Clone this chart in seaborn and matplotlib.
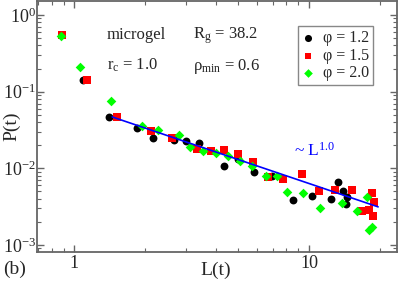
import matplotlib
matplotlib.use("Agg")
import matplotlib.pyplot as plt
import seaborn as sns
import pandas as pd
import numpy as np

# ---- data ----
L_12 = [1.092, 1.409, 1.854, 2.168, 2.664, 2.996, 3.404, 4.35, 4.99, 5.83, 6.96,
        8.55, 10.3, 12.41, 13.29, 13.95, 14.51, 14.37]
P_12 = [0.142, 0.0468, 0.0336, 0.0249, 0.0235, 0.0228, 0.0214, 0.0107, 0.0133, 0.00897,
        0.00796, 0.00387, 0.00436, 0.00399, 0.00665, 0.00507, 0.00423, 0.00343]

L_15 = [0.889, 1.136, 1.524, 2.127, 2.612, 3.338, 3.83, 4.35, 4.99, 5.78, 6.69, 7.75,
        9.34, 11.03, 12.90, 15.24, 16.81, 18.0, 18.54, 18.91, 18.72]
P_15 = [0.548, 0.142, 0.0468, 0.0308, 0.0249, 0.0179, 0.0169, 0.0174, 0.0154, 0.0121,
        0.00773, 0.00728, 0.00845, 0.00507, 0.00523, 0.00523, 0.00279, 0.00287, 0.00478,
        0.00365, 0.00240]

L_20 = [0.880, 1.061, 1.437, 1.947, 2.277, 2.798, 3.117, 3.54, 4.02, 4.52, 5.08, 5.72,
        6.56, 7.31, 8.06, 9.43, 11.14, 13.82, 16.0, 17.65, 18.0, 18.54]
P_20 = [0.532, 0.210, 0.0757, 0.0357, 0.0317, 0.0273, 0.0190, 0.0169, 0.0159, 0.0145,
        0.0125, 0.0107, 0.00796, 0.00796, 0.00492, 0.00478, 0.00305, 0.00354, 0.00279,
        0.00423, 0.00157, 0.00172]

L_fit = [1.45, 19.7]
P_fit = [0.0468, 0.00314]

series_labels = ["φ = 1.2", "φ = 1.5", "φ = 2.0"]
x_ticks = [1, 10]
x_ticklabels = ["1", "10"]
y_ticks = [1e-3, 1e-2, 1e-1, 1]
y_ticklabels = [r"$10^{-3}$", r"$10^{-2}$", r"$10^{-1}$", r"$10^{0}$"]

sns.set_style("ticks")
plt.rcParams["font.family"] = ["Liberation Serif", "DejaVu Serif"]
plt.rcParams["mathtext.fontset"] = "custom"
plt.rcParams["mathtext.rm"] = "Liberation Serif"
plt.rcParams["mathtext.it"] = "Liberation Serif:italic"
plt.rcParams["mathtext.sf"] = "Liberation Serif"

fig = plt.figure(figsize=(3.99, 2.81), dpi=100)
ax = fig.add_axes([0.0935, 0.1032, 0.995 - 0.0935, 0.9964 - 0.1032])

frames = []
for L, P, lab in [(L_12, P_12, series_labels[0]), (L_15, P_15, series_labels[1]),
                  (L_20, P_20, series_labels[2])]:
    frames.append(pd.DataFrame({"L": L, "P": P, "phi": lab}))
df = pd.concat(frames, ignore_index=True)

palette = {series_labels[0]: "black", series_labels[1]: "#ff0000", series_labels[2]: "#00ff00"}
markers = {series_labels[0]: "o", series_labels[1]: "s", series_labels[2]: "D"}
sizes = {series_labels[0]: 32, series_labels[1]: 28, series_labels[2]: 24}

for lab in series_labels:
    sub = df[df["phi"] == lab]
    sns.scatterplot(data=sub, x="L", y="P", color=palette[lab], marker=markers[lab],
                    s=sizes[lab], linewidth=0, ax=ax, label=lab, zorder=3)

fit = pd.DataFrame({"L": L_fit, "P": P_fit})
sns.lineplot(data=fit, x="L", y="P", color="#0000ff", linewidth=1.2, ax=ax, zorder=4)

ax.set_xscale("log")
ax.set_yscale("log")
ax.set_xlim(0.696, 23.7)
ax.set_ylim(8.1e-4, 1.52)

spine_col = "#666666"
for sp in ax.spines.values():
    sp.set_visible(True)
    sp.set_color(spine_col)
    sp.set_linewidth(1.3)

ax.tick_params(which="both", direction="in", top=True, right=True, color=spine_col,
               labelsize=13)
ax.tick_params(which="major", length=5, width=1)
ax.tick_params(which="minor", length=3, width=0.8)
ax.set_xticks(x_ticks)
ax.set_xticklabels(x_ticklabels)
ax.set_yticks(y_ticks)
ax.set_yticklabels(y_ticklabels)
ax.tick_params(axis="x", pad=2)
ax.tick_params(axis="y", pad=1)

ax.set_xlabel("L(t)", fontsize=14)
ax.set_ylabel("P(t)", fontsize=14)
ax.xaxis.set_label_coords(0.497, -0.072)
ax.yaxis.set_label_coords(-0.070, 0.5)
ax.xaxis.label.set_va("center")
ax.yaxis.label.set_va("center")

tk = dict(transform=ax.transAxes, fontsize=12, va="baseline", ha="left")
ax.text(0.194, 0.849, "microgel", **tk)
ax.text(0.433, 0.849, r"R$_\mathrm{g}$ = 38.2", **tk)
ax.text(0.194, 0.725, r"r$_\mathrm{c}$ = 1.0", **tk)
ax.text(0.433, 0.725, r"ρ$_\mathrm{min}$ = 0.6", **tk)
ax.text(0.714, 0.382, r"~ L$^{1.0}$", transform=ax.transAxes, fontsize=12.5,
        va="baseline", ha="left", color="#0000ff")

fig.text(0.008, 0.04, "(b)", fontsize=14, ha="left", va="center")

leg = ax.legend(loc="upper left", bbox_to_anchor=(0.725, 0.900), borderaxespad=0,
                fancybox=False, edgecolor="#888888", framealpha=1, fontsize=11.5,
                handlelength=0.8, handletextpad=0.5, borderpad=0.25, labelspacing=0.1,
                markerscale=0.9)
leg.get_frame().set_linewidth(1.0)

fig.savefig("out.png", dpi=100)
